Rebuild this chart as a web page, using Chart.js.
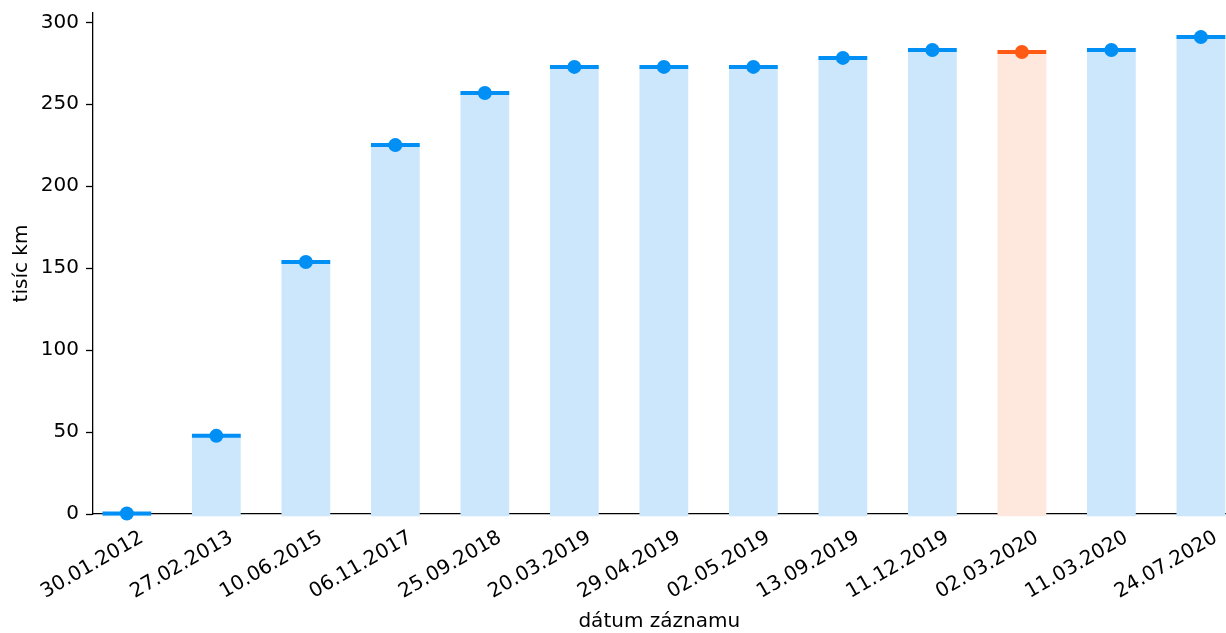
<!DOCTYPE html>
<html>
<head>
<meta charset="utf-8">
<script src="https://cdn.jsdelivr.net/npm/chart.js@4.4.1/dist/chart.umd.min.js"></script>
<style>
html,body{margin:0;padding:0;background:#fff;}
#wrap{width:1226px;height:633px;}
</style>
</head>
<body>
<div id="wrap"><canvas id="c" width="1226" height="633"></canvas></div>
<script>
const dates = ["30.01.2012","27.02.2013","10.06.2015","06.11.2017","25.09.2018","20.03.2019","29.04.2019","02.05.2019","13.09.2019","11.12.2019","02.03.2020","11.03.2020","24.07.2020"];
const mileage = [0.3, 47.7, 153.8, 225.1, 256.9, 272.8, 272.8, 272.8, 278.3, 283.1, 281.9, 283.1, 291.0];
const highlighted = [false,false,false,false,false,false,false,false,false,false,true,false,false];
const yTicks = [0, 50, 100, 150, 200, 250, 300];

const BLUE = '#008ff5', BLUE_FILL = '#cce7fb';
const ORANGE = '#ff5a14', ORANGE_FILL = '#fee7dd';
const FONT = 'DejaVu Sans';
const segHalf = 1.22;

const pts = mileage.map((v, i) => ({x: i, y: v}));
const segs = mileage.map((v, i) => ({x: i, y: [v - segHalf, v + segHalf]}));

new Chart(document.getElementById('c'), {
  type: 'bar',
  data: {
    datasets: [
      {
        data: pts,
        backgroundColor: highlighted.map(h => h ? ORANGE_FILL : BLUE_FILL),
        borderWidth: 0,
        barPercentage: 0.545,
        categoryPercentage: 1,
        grouped: false,
        base: -1.3,
        clip: false,
        order: 3
      },
      {
        data: segs,
        backgroundColor: highlighted.map(h => h ? ORANGE : BLUE),
        borderWidth: 0,
        barPercentage: 0.545,
        categoryPercentage: 1,
        grouped: false,
        clip: false,
        order: 2
      },
      {
        type: 'scatter',
        data: pts,
        showLine: false,
        pointRadius: 7,
        pointBorderWidth: 0,
        pointBackgroundColor: highlighted.map(h => h ? ORANGE : BLUE),
        clip: false,
        order: 1
      }
    ]
  },
  options: {
    responsive: false,
    animation: false,
    events: [],
    layout: {autoPadding: false, padding: {left: 0, right: 0.5, top: 13, bottom: 0}},
    plugins: {legend: {display: false}, tooltip: {enabled: false}},
    scales: {
      x: {
        type: 'linear',
        offset: false,
        min: -0.378,
        max: 12.275,
        afterFit: s => { s.height = 119; s.paddingLeft = 0; s.paddingRight = 0; },
        afterBuildTicks: s => { s.ticks = dates.map((d, i) => ({value: i})); },
        grid: {display: true, drawOnChartArea: false, drawTicks: false},
        border: {display: true, color: '#000', width: 1.3},
        ticks: {
          autoSkip: false,
          maxRotation: 30,
          minRotation: 30,
          padding: 12,
          labelOffset: 15,
          color: '#000',
          font: {family: FONT, size: 20},
          callback: v => dates[v] ?? ''
        },
        title: {display: true, text: 'dátum záznamu', color: '#000', font: {family: FONT, size: 20}, padding: {top: 0, bottom: -1}}
      },
      y: {
        min: 0,
        max: 305.7,
        afterFit: s => { s.width = 93; s.paddingTop = 0; s.paddingBottom = 0; },
        afterBuildTicks: s => { s.ticks = yTicks.map(v => ({value: v})); },
        grid: {display: true, drawOnChartArea: false, drawTicks: true, tickLength: 7, color: '#000', tickWidth: 1.3},
        border: {display: true, color: '#000', width: 1.3},
        ticks: {color: '#000', padding: 7, font: {family: FONT, size: 20}},
        title: {display: true, text: 'tisíc km', color: '#000', font: {family: FONT, size: 20}, padding: {top: 10, bottom: 0}}
      }
    }
  }
});
</script>
</body>
</html>
